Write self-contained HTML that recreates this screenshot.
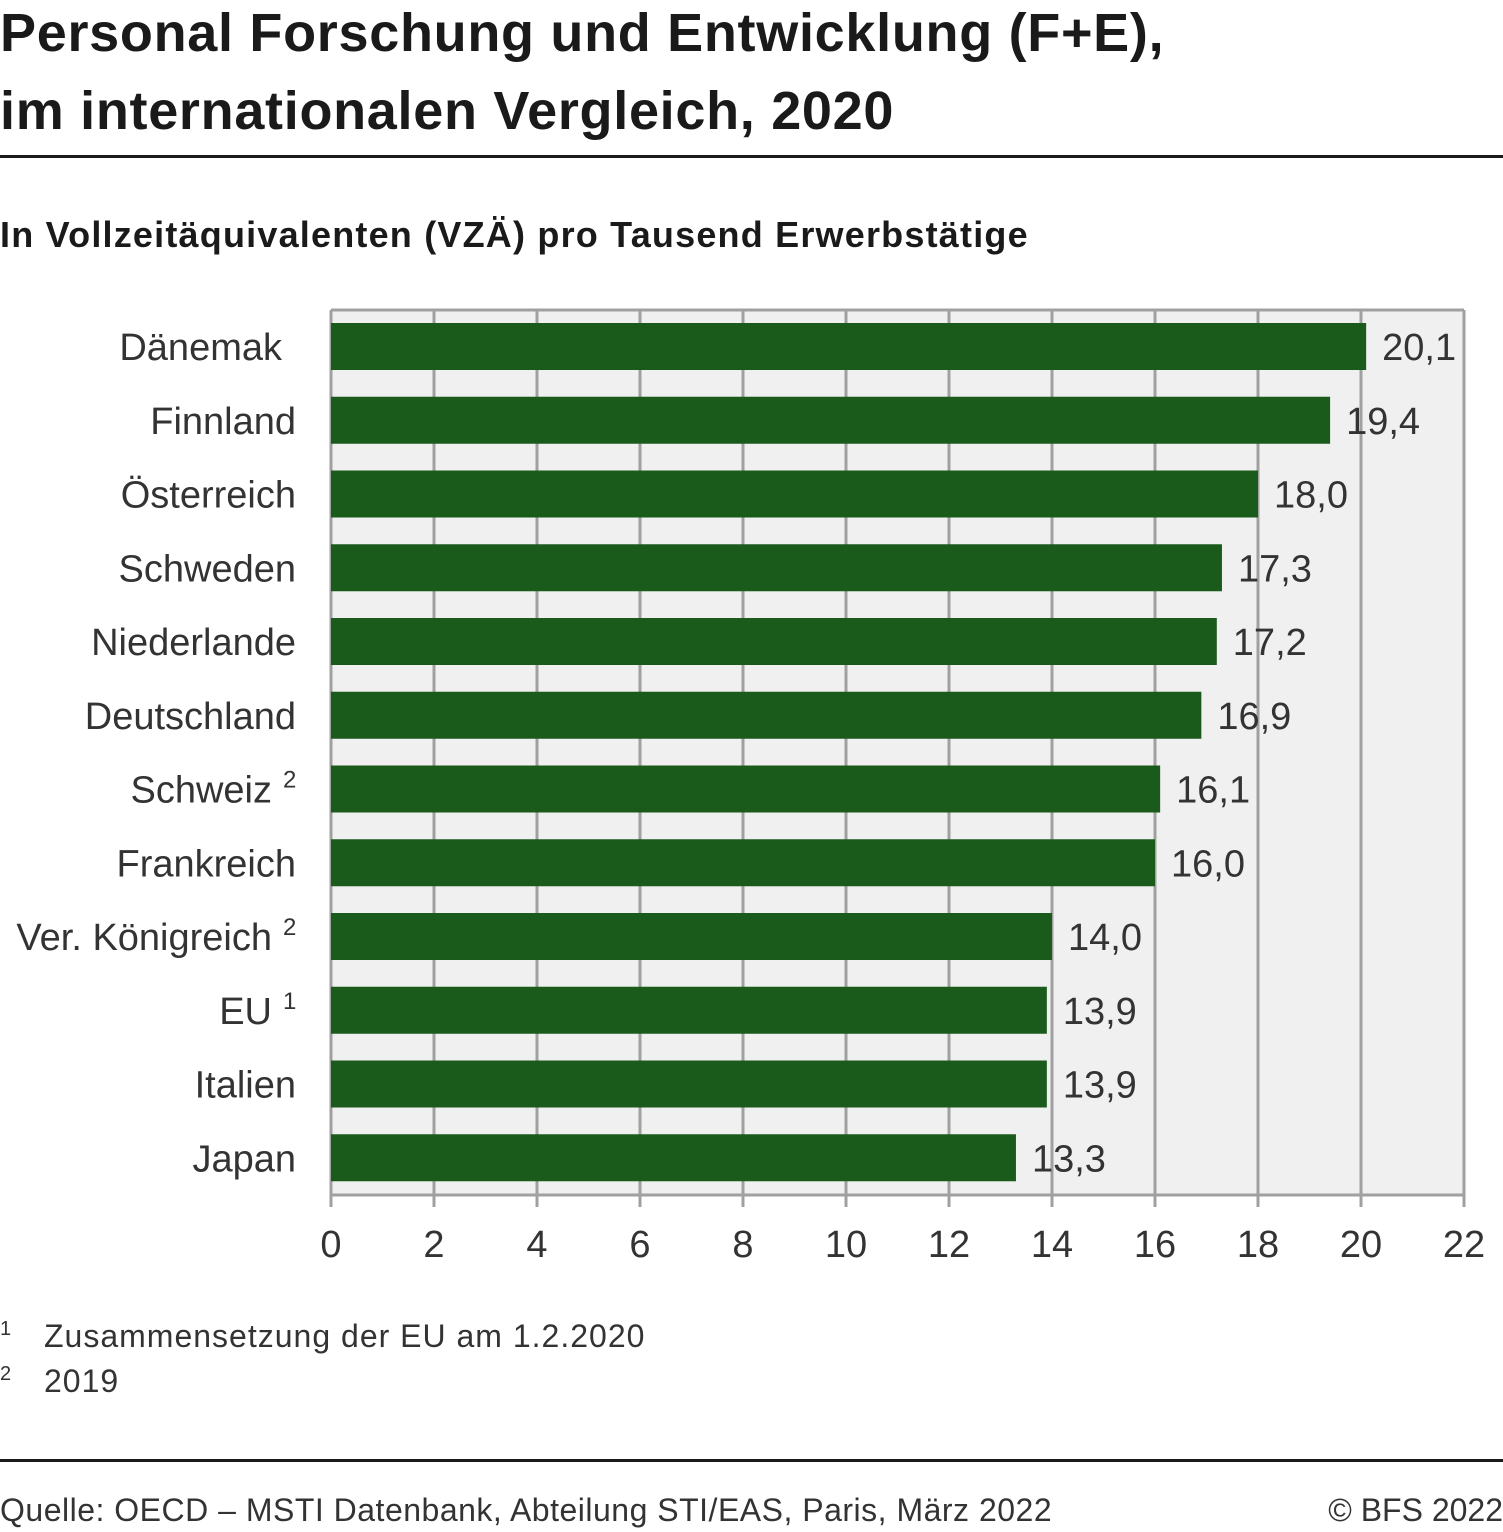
<!DOCTYPE html>
<html><head><meta charset="utf-8">
<style>
body{margin:0;background:#fff;font-family:"Liberation Sans",sans-serif;color:#222;}
#wrap{position:relative;width:1503px;height:1532px;overflow:hidden;}
.t{position:absolute;white-space:nowrap;}
</style></head>
<body>
<div id="wrap">
<div class="t" style="left:0;top:-6px;font-size:54px;font-weight:bold;line-height:78px;color:#1a1a1a;letter-spacing:0.7px">Personal Forschung und Entwicklung (F+E),<br>im internationalen Vergleich, 2020</div>
<div style="position:absolute;left:0;top:155px;width:1503px;height:3px;background:#1a1a1a"></div>
<div class="t" style="left:0;top:214px;font-size:36px;font-weight:bold;color:#1a1a1a;letter-spacing:1.2px">In Vollzeitäquivalenten (VZÄ) pro Tausend Erwerbstätige</div>
<svg id="chart" width="1503" height="1300" style="position:absolute;left:0;top:0" font-family="Liberation Sans, sans-serif"></svg>
<div class="t" style="left:0;top:1318px;font-size:32px;color:#333"><span style="font-size:20px;vertical-align:top">1</span><span style="position:absolute;left:44px;letter-spacing:1px">Zusammensetzung der EU am 1.2.2020</span></div>
<div class="t" style="left:0;top:1363px;font-size:32px;color:#333"><span style="font-size:20px;vertical-align:top">2</span><span style="position:absolute;left:44px;letter-spacing:1px">2019</span></div>
<div style="position:absolute;left:0;top:1459px;width:1503px;height:3px;background:#1a1a1a"></div>
<div class="t" style="left:0;top:1492px;font-size:32px;color:#333;letter-spacing:0.5px">Quelle: OECD – MSTI Datenbank, Abteilung STI/EAS, Paris, März 2022</div>
<div class="t" style="right:0;top:1492px;font-size:32px;color:#333">© BFS 2022</div>
</div>
<script>
const categories=["Dänemak","Finnland","Österreich","Schweden","Niederlande","Deutschland","Schweiz","Frankreich","Ver. Königreich","EU","Italien","Japan"];
const notes=["","","","","","","2","","2","1","",""];
const values=[20.1,19.4,18.0,17.3,17.2,16.9,16.1,16.0,14.0,13.9,13.9,13.3];
const ticks=[0,2,4,6,8,10,12,14,16,18,20,22];
const svg=document.getElementById('chart');
const NS='http://www.w3.org/2000/svg';
const x0=331,x1=1464,yTop=310,yBot=1195,xMax=22;
const xs=v=>x0+(v/xMax)*(x1-x0);
const band=(yBot-yTop)/categories.length;
function mk(t,a){const e=document.createElementNS(NS,t);for(const k in a)e.setAttribute(k,a[k]);svg.appendChild(e);return e;}
let r=mk('rect',{x:x0,y:yTop,width:x1-x0,height:yBot-yTop,fill:'#f0f0f0'});


ticks.forEach(t=>{
 const l=mk('line',{x1:xs(t),x2:xs(t),y1:yTop,y2:yBot+12,stroke:'#a0a0a0','stroke-width':3});
 
 
 const tx=mk('text',{x:xs(t),y:1257,'font-size':38,'text-anchor':'middle',fill:'#333'});
 tx.textContent=t;
 
 
});
let b=mk('line',{x1:x0,x2:x1,y1:yTop,y2:yTop,stroke:'#a0a0a0','stroke-width':3});


b=mk('line',{x1:x0-1.5,x2:x1+1.5,y1:yBot,y2:yBot,stroke:'#a0a0a0','stroke-width':3});


categories.forEach((c,i)=>{
 const y=yTop+i*band+13;
 const bar=mk('rect',{x:x0,y:y,width:xs(values[i])-x0,height:47,fill:'#1a5a1a'});
 
 
 const v=mk('text',{x:xs(values[i])+16,y:y+37,'font-size':38,fill:'#333'});
 v.textContent=values[i].toFixed(1).replace('.',',');
 
 
 const lb=mk('text',{x:notes[i]?272:(i==0?282:296),y:y+37,'font-size':38,'text-anchor':'end',fill:'#333'});
 lb.textContent=c;
 
 
 if(notes[i]){
  const n=mk('text',{x:283,y:y+22,'font-size':24,fill:'#333'});
  n.textContent=notes[i];
  
  
 }
});
</script>
</body></html>
